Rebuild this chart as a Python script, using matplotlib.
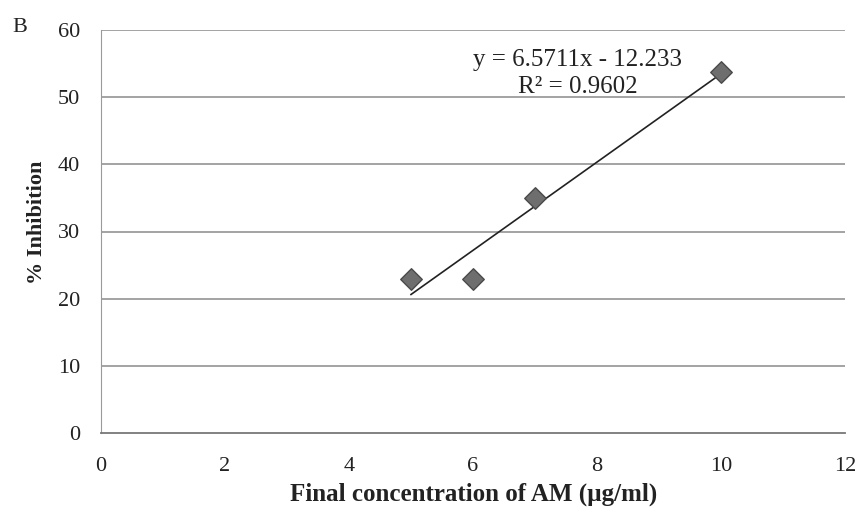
import numpy as np
import matplotlib.pyplot as plt

# measured inhibition at each final concentration
conc = [5, 6, 7, 10]
inhibition = [23.0, 23.0, 35.0, 53.7]

# linear trendline reported on the chart
slope = 6.5711
intercept = -12.233
r_squared = 0.9602

xticks = [0, 2, 4, 6, 8, 10, 12]
yticks = [0, 10, 20, 30, 40, 50, 60]

plt.rcParams['font.family'] = ['Liberation Serif', 'DejaVu Serif']

fig = plt.figure(figsize=(8.59, 5.15), dpi=100)
ax = fig.add_axes([101 / 859, 1 - 433 / 515, 744 / 859, 403 / 515])

# horizontal gridlines
for yv in yticks[1:]:
    ax.axhline(yv, color='#8a8a8a', lw=1.1, zorder=1)

ax.scatter(conc, inhibition, marker='D', s=120, color='#6e6e6e',
           edgecolors='#4a4a4a', linewidths=1.0, zorder=3)

xfit = np.array([min(conc), max(conc)])
ax.plot(xfit, slope * xfit + intercept, color='#222222', lw=1.2, zorder=2)

ax.text(7.69, 55.6, 'y = %.4fx - %.3f' % (slope, abs(intercept)),
        ha='center', va='center', fontsize=18, color='#222222')
ax.text(7.69, 51.5, 'R² = %.4f' % r_squared,
        ha='center', va='center', fontsize=18, color='#222222')

ax.set_xlim(0, 12)
ax.set_ylim(0, 60)
ax.set_xticks(xticks)
ax.set_yticks(yticks)
ax.tick_params(length=0, labelsize=16, colors='#222222')
ax.tick_params(axis='x', pad=17)
ax.tick_params(axis='y', pad=15)

for side in ['top', 'right']:
    ax.spines[side].set_visible(False)
ax.spines['left'].set_color('#9a9a9a')
ax.spines['bottom'].set_color('#777777')
ax.spines['bottom'].set_linewidth(1.3)

ax.set_xlabel('Final concentration of AM (µg/ml)', fontsize=18,
              fontweight='bold', color='#222222', va='center')
ax.set_ylabel('% Inhibition', fontsize=16, fontweight='bold',
              color='#222222', va='center')
ax.xaxis.set_label_coords(0.5007, -0.152)
ax.yaxis.set_label_coords(-0.086, 0.524)

fig.text(20 / 859, 1 - 28 / 515, 'B', fontsize=16, ha='center', va='center',
         color='#222222')

fig.savefig('out.png', dpi=100)
